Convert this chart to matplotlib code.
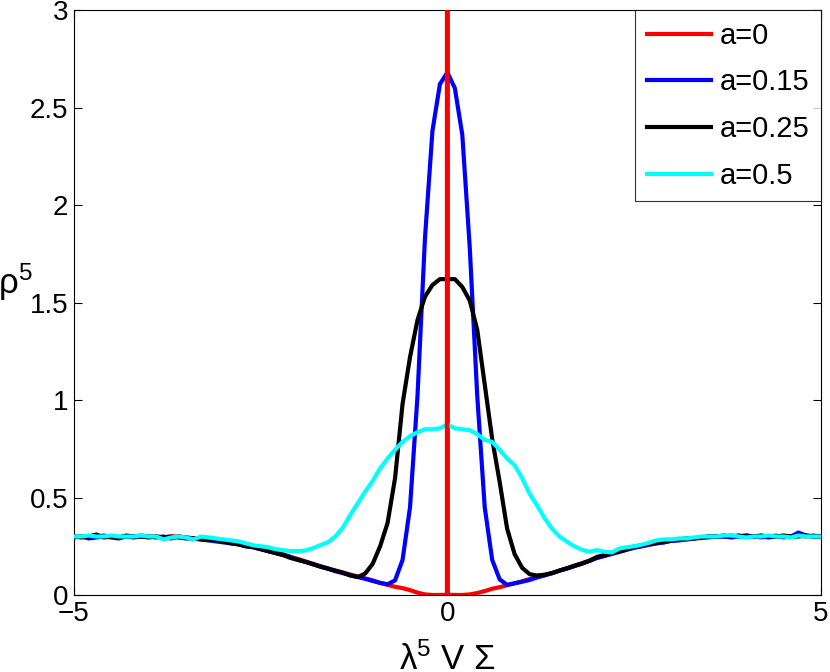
import numpy as np
import matplotlib
matplotlib.use("Agg")
import matplotlib.pyplot as plt

plt.rcParams['font.family'] = ['Liberation Sans', 'DejaVu Sans']
plt.rcParams['mathtext.fontset'] = 'custom'
plt.rcParams['mathtext.rm'] = 'Liberation Sans'
plt.rcParams['mathtext.it'] = 'Liberation Sans'

# grid of lambda^5 V Sigma values
x = np.round(np.linspace(-5, 5, 101), 2)

# a = 0 : includes a delta-like spike at x = 0
red_x = list(x[:50]) + [0.0, 0.0, 0.0] + list(x[51:])
red_y = [0.30, 0.30, 0.295, 0.30, 0.305, 0.30, 0.295, 0.30, 0.30, 0.305,
         0.30, 0.30, 0.295, 0.30, 0.30, 0.295, 0.29, 0.29, 0.285, 0.28,
         0.275, 0.27, 0.265, 0.255, 0.25, 0.24, 0.23, 0.22, 0.21, 0.195,
         0.185, 0.172, 0.16, 0.148, 0.137, 0.125, 0.115, 0.105, 0.095, 0.085,
         0.075, 0.062, 0.052, 0.042, 0.035, 0.025, 0.012, 0.003, 0.0, 0.0,
         0.0, 40.0, 0.0,
         0.0, 0.0, 0.003, 0.01, 0.02, 0.032, 0.04, 0.05, 0.06, 0.07,
         0.082, 0.092, 0.102, 0.112, 0.125, 0.137, 0.15, 0.162, 0.175, 0.19,
         0.20, 0.21, 0.22, 0.232, 0.245, 0.25, 0.258, 0.265, 0.27, 0.278,
         0.282, 0.285, 0.29, 0.292, 0.295, 0.30, 0.30, 0.305, 0.30, 0.305,
         0.30, 0.295, 0.30, 0.305, 0.295, 0.30, 0.305, 0.30, 0.305, 0.30]

blue_y = [0.295, 0.30, 0.29, 0.295, 0.30, 0.295, 0.29, 0.30, 0.295, 0.30,
          0.30, 0.295, 0.30, 0.29, 0.30, 0.295, 0.29, 0.285, 0.28, 0.275,
          0.27, 0.265, 0.26, 0.25, 0.245, 0.235, 0.225, 0.215, 0.205, 0.195,
          0.18, 0.17, 0.158, 0.145, 0.135, 0.122, 0.112, 0.102, 0.092, 0.083,
          0.072, 0.062, 0.055, 0.075, 0.18, 0.45, 1.02, 1.83, 2.38, 2.62,
          2.68,
          2.60, 2.36, 1.78, 1.02, 0.45, 0.18, 0.08, 0.052, 0.06, 0.068,
          0.077, 0.09, 0.10, 0.112, 0.125, 0.135, 0.148, 0.16, 0.175, 0.19,
          0.20, 0.212, 0.222, 0.232, 0.242, 0.25, 0.258, 0.265, 0.27, 0.278,
          0.28, 0.285, 0.29, 0.295, 0.30, 0.30, 0.30, 0.295, 0.30, 0.305,
          0.30, 0.30, 0.295, 0.30, 0.30, 0.30, 0.32, 0.305, 0.30, 0.30]

black_y = [0.30, 0.295, 0.30, 0.31, 0.295, 0.30, 0.295, 0.305, 0.30, 0.30,
           0.295, 0.30, 0.295, 0.30, 0.295, 0.29, 0.29, 0.285, 0.285, 0.28,
           0.275, 0.265, 0.26, 0.25, 0.245, 0.235, 0.225, 0.215, 0.205, 0.19,
           0.18, 0.17, 0.158, 0.146, 0.135, 0.125, 0.115, 0.10, 0.092, 0.11,
           0.16, 0.25, 0.37, 0.60, 0.98, 1.22, 1.41, 1.53, 1.59, 1.62,
           1.62,
           1.62, 1.58, 1.51, 1.36, 1.08, 0.80, 0.58, 0.34, 0.21, 0.14,
           0.107, 0.10, 0.104, 0.112, 0.125, 0.137, 0.15, 0.162, 0.175, 0.195,
           0.205, 0.215, 0.225, 0.235, 0.248, 0.255, 0.262, 0.268, 0.275, 0.28,
           0.285, 0.29, 0.29, 0.295, 0.30, 0.30, 0.305, 0.30, 0.305, 0.30,
           0.30, 0.305, 0.30, 0.30, 0.305, 0.30, 0.30, 0.305, 0.30, 0.30]

cyan_y = [0.30, 0.30, 0.305, 0.30, 0.30, 0.305, 0.30, 0.30, 0.30, 0.305,
          0.30, 0.30, 0.285, 0.295, 0.30, 0.295, 0.285, 0.30, 0.295, 0.29,
          0.285, 0.28, 0.275, 0.265, 0.255, 0.25, 0.245, 0.235, 0.23, 0.225,
          0.225, 0.228, 0.24, 0.256, 0.27, 0.30, 0.345, 0.41, 0.47, 0.53,
          0.585, 0.65, 0.70, 0.745, 0.785, 0.815, 0.835, 0.85, 0.85, 0.855,
          0.875,
          0.855, 0.85, 0.845, 0.825, 0.795, 0.785, 0.745, 0.70, 0.665, 0.60,
          0.52, 0.46, 0.395, 0.34, 0.30, 0.273, 0.25, 0.232, 0.222, 0.23,
          0.222, 0.218, 0.238, 0.245, 0.25, 0.258, 0.268, 0.28, 0.285, 0.285,
          0.29, 0.29, 0.295, 0.30, 0.30, 0.30, 0.305, 0.305, 0.30, 0.295,
          0.30, 0.30, 0.305, 0.30, 0.30, 0.295, 0.305, 0.30, 0.30, 0.30]

labels = ['a=0', 'a=0.15', 'a=0.25', 'a=0.5']
colors = ['#ff0000', '#0000ff', '#000000', '#00ffff']

fig = plt.figure(figsize=(8.3, 6.72), dpi=100)
ax = fig.add_axes([0.089, 0.1146, 0.9, 0.8704])

lw = 3.0
ax.plot(red_x, red_y, color=colors[0], lw=lw, label=labels[0], zorder=2)
ax.plot(x, blue_y, color=colors[1], lw=lw, label=labels[1], zorder=3)
ax.plot(x, black_y, color=colors[2], lw=lw, label=labels[2], zorder=4)
ax.plot(x, cyan_y, color=colors[3], lw=lw, label=labels[3], zorder=5)
# the delta spike of a=0 is drawn above the other curves
ax.plot(red_x[49:54], red_y[49:54], color=colors[0], lw=lw, zorder=6)

ax.set_xlim(-5, 5)
ax.set_ylim(0, 3)
ax.set_xticks([-5, 0, 5])
ax.set_xticklabels(['\u22125', '0', '5'])
ax.set_yticks([0, 0.5, 1, 1.5, 2, 2.5, 3])
ax.set_yticklabels(['0', '0.5', '1', '1.5', '2', '2.5', '3'])
ax.tick_params(direction='in', length=6, width=0.8, top=True, right=True,
               labelsize=20, pad=4)
for s in ax.spines.values():
    s.set_linewidth(0.8)

ax.set_xlabel('\u03bb$^5$ V \u03a3', fontsize=25, labelpad=11)
ax.set_ylabel('\u03c1$^5$', fontsize=25, rotation=0)
ax.yaxis.set_label_coords(-0.078, 0.5)

leg = ax.legend(loc='upper right', fontsize=21, frameon=True, fancybox=False,
                borderaxespad=0, handlelength=2.2, labelspacing=0.64,
                borderpad=0.4, handletextpad=0.3)
leg.get_frame().set_edgecolor('black')
leg.get_frame().set_linewidth(0.8)

fig.savefig('out.png', dpi=100)
